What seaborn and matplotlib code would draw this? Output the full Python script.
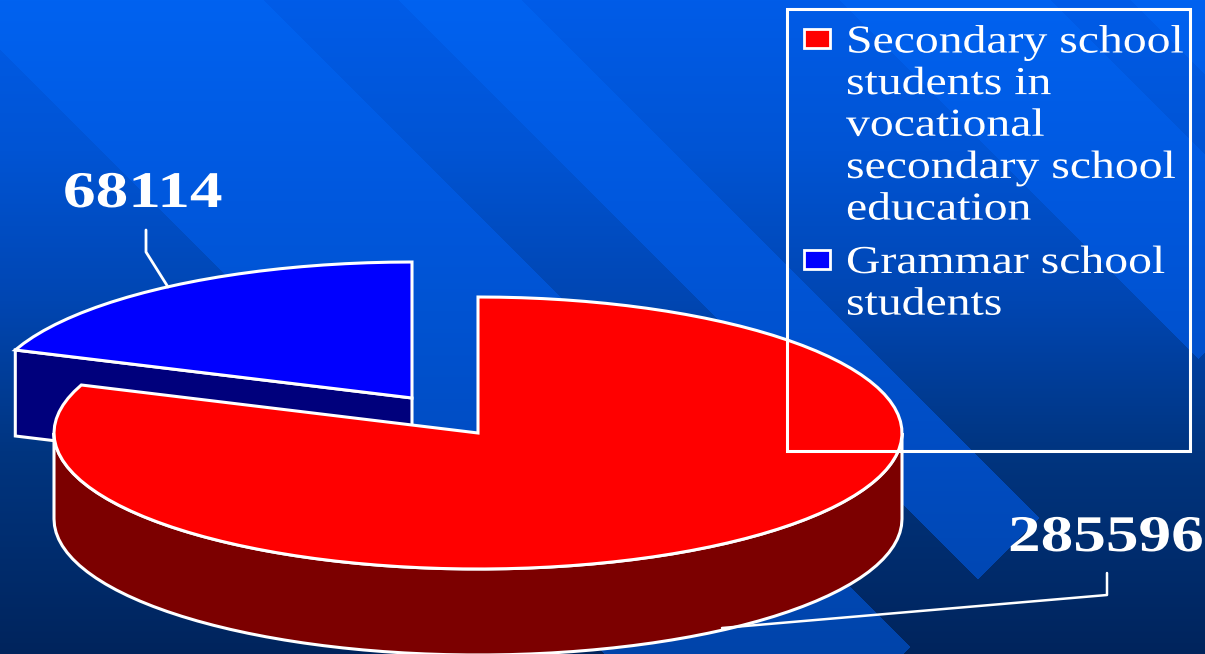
import numpy as np
import matplotlib
matplotlib.use("Agg")
import matplotlib.pyplot as plt
import matplotlib.patheffects as pe
from matplotlib.patches import Polygon, Rectangle
from matplotlib.transforms import Affine2D
import seaborn as sns

# data
categories = ["Secondary school\nstudents in\nvocational\nsecondary school\neducation",
              "Grammar school\nstudents"]
students = [285596, 68114]
top_colors = ["#ff0000", "#0000ff"]
side_colors = ["#7c0000", "#00007c"]
value_labels = ["285596", "68114"]

W, H = 1205, 654
RX, RY, DEPTH = 424, 136, 86
LINE = "white"
LW = 2.2

sns.set_style("white")
plt.rcParams["font.family"] = ["Liberation Serif", "DejaVu Serif"]


class StretchX(pe.AbstractPathEffect):
    # the source picture is a slide squashed sideways, so the text is wider than the font
    def __init__(self, x0, sx):
        super().__init__()
        self.x0, self.sx = x0, sx

    def draw_path(self, renderer, gc, tpath, affine, rgbFace=None):
        st = Affine2D().translate(-self.x0, 0).scale(self.sx, 1).translate(self.x0, 0)
        renderer.draw_path(gc, tpath, affine + st, rgbFace)


def rim(cx, cy, a0, a1, drop=0, n=64):
    # points on the ellipse, angles clockwise from 12 o'clock
    t = np.radians(np.linspace(a0, a1, n))
    return np.column_stack([cx + RX * np.sin(t), cy - RY * np.cos(t) + drop])


def background():
    yy, xx = np.mgrid[0:H, 0:W]
    c = yy - xx
    ys = [0, 150, 300, 450, 654]
    dark = np.stack([0 * yy + 0.0,
                     np.interp(yy, ys, [92, 84, 70, 53, 36]) / 255,
                     np.interp(yy, ys, [232, 212, 178, 128, 92]) / 255], axis=-1)
    light = np.stack([0 * yy + 0.0,
                      np.interp(yy, [0, 200, 420, 654], [98, 88, 78, 68]) / 255,
                      np.interp(yy, [0, 200, 420, 654], [240, 222, 198, 170]) / 255], axis=-1)
    stripes = (c < 50) & (c > -264)
    stripes |= (c < -398) & (c > -522)
    stripes |= (c < -839) & (c > -1051)
    stripes |= c < -1130
    stripes &= (xx + yy) < 1557
    return np.where(stripes[..., None], light, dark)


fig = plt.figure(figsize=(W / 100, H / 100), dpi=100)
ax = fig.add_axes([0, 0, 1, 1])
ax.imshow(background(), extent=(0, W, H, 0), aspect="auto", interpolation="bilinear", zorder=0)

angles = np.array(students) / sum(students) * 360

# grammar school slice, pulled out of the pie
bx, by = 412, 398
start = angles[0]
edge = rim(bx, by, start, start, n=1)[0]
ax.add_patch(Polygon([edge, (bx, by), (bx, by + DEPTH), (edge[0], edge[1] + DEPTH)],
                     fc=side_colors[1], ec=LINE, lw=LW, zorder=2))
ax.add_patch(Polygon(np.vstack([[(bx, by)], rim(bx, by, start, 360, n=24)]),
                     fc=top_colors[1], ec=LINE, lw=LW, zorder=3))

# secondary school slice
cx, cy = 478, 433
front = rim(cx, cy, 90, 270)
ax.add_patch(Polygon(np.vstack([front, rim(cx, cy, 270, 90, drop=DEPTH)]),
                     fc=side_colors[0], ec=LINE, lw=LW, zorder=4))
ax.add_patch(Polygon(np.vstack([[(cx, cy)], rim(cx, cy, 0, angles[0], n=100)]),
                     fc=top_colors[0], ec=LINE, lw=LW, zorder=5))

# leader lines and value labels
ax.plot([146, 146, 168], [230, 252, 287], color=LINE, lw=2.0, zorder=6)
ax.plot([1107, 1107, 722], [573, 595, 628], color=LINE, lw=1.8, zorder=6)
ax.text(63, 207, value_labels[1], color="white", fontsize=37, fontweight="bold", zorder=7,
        path_effects=[StretchX(63, 1.27)])
ax.text(1008, 551, value_labels[0], color="white", fontsize=37, fontweight="bold", zorder=7,
        path_effects=[StretchX(1008, 1.27)])

# legend box
ax.add_patch(Rectangle((787, 9), 403, 442, fc="none", ec=LINE, lw=LW, zorder=6))
for name, col, ytop, ytext in zip(categories, top_colors, [29, 250], [24, 245]):
    ax.add_patch(Rectangle((804, ytop), 26, 19, fc=col, ec=LINE, lw=2.0, zorder=7))
    ax.text(846, ytext, name, color="white", fontsize=28.5, va="top", linespacing=1.165,
            zorder=7, path_effects=[StretchX(846, 1.205)])

ax.set_xlim(0, W)
ax.set_ylim(H, 0)
ax.axis("off")
fig.savefig("out.png", dpi=100)
